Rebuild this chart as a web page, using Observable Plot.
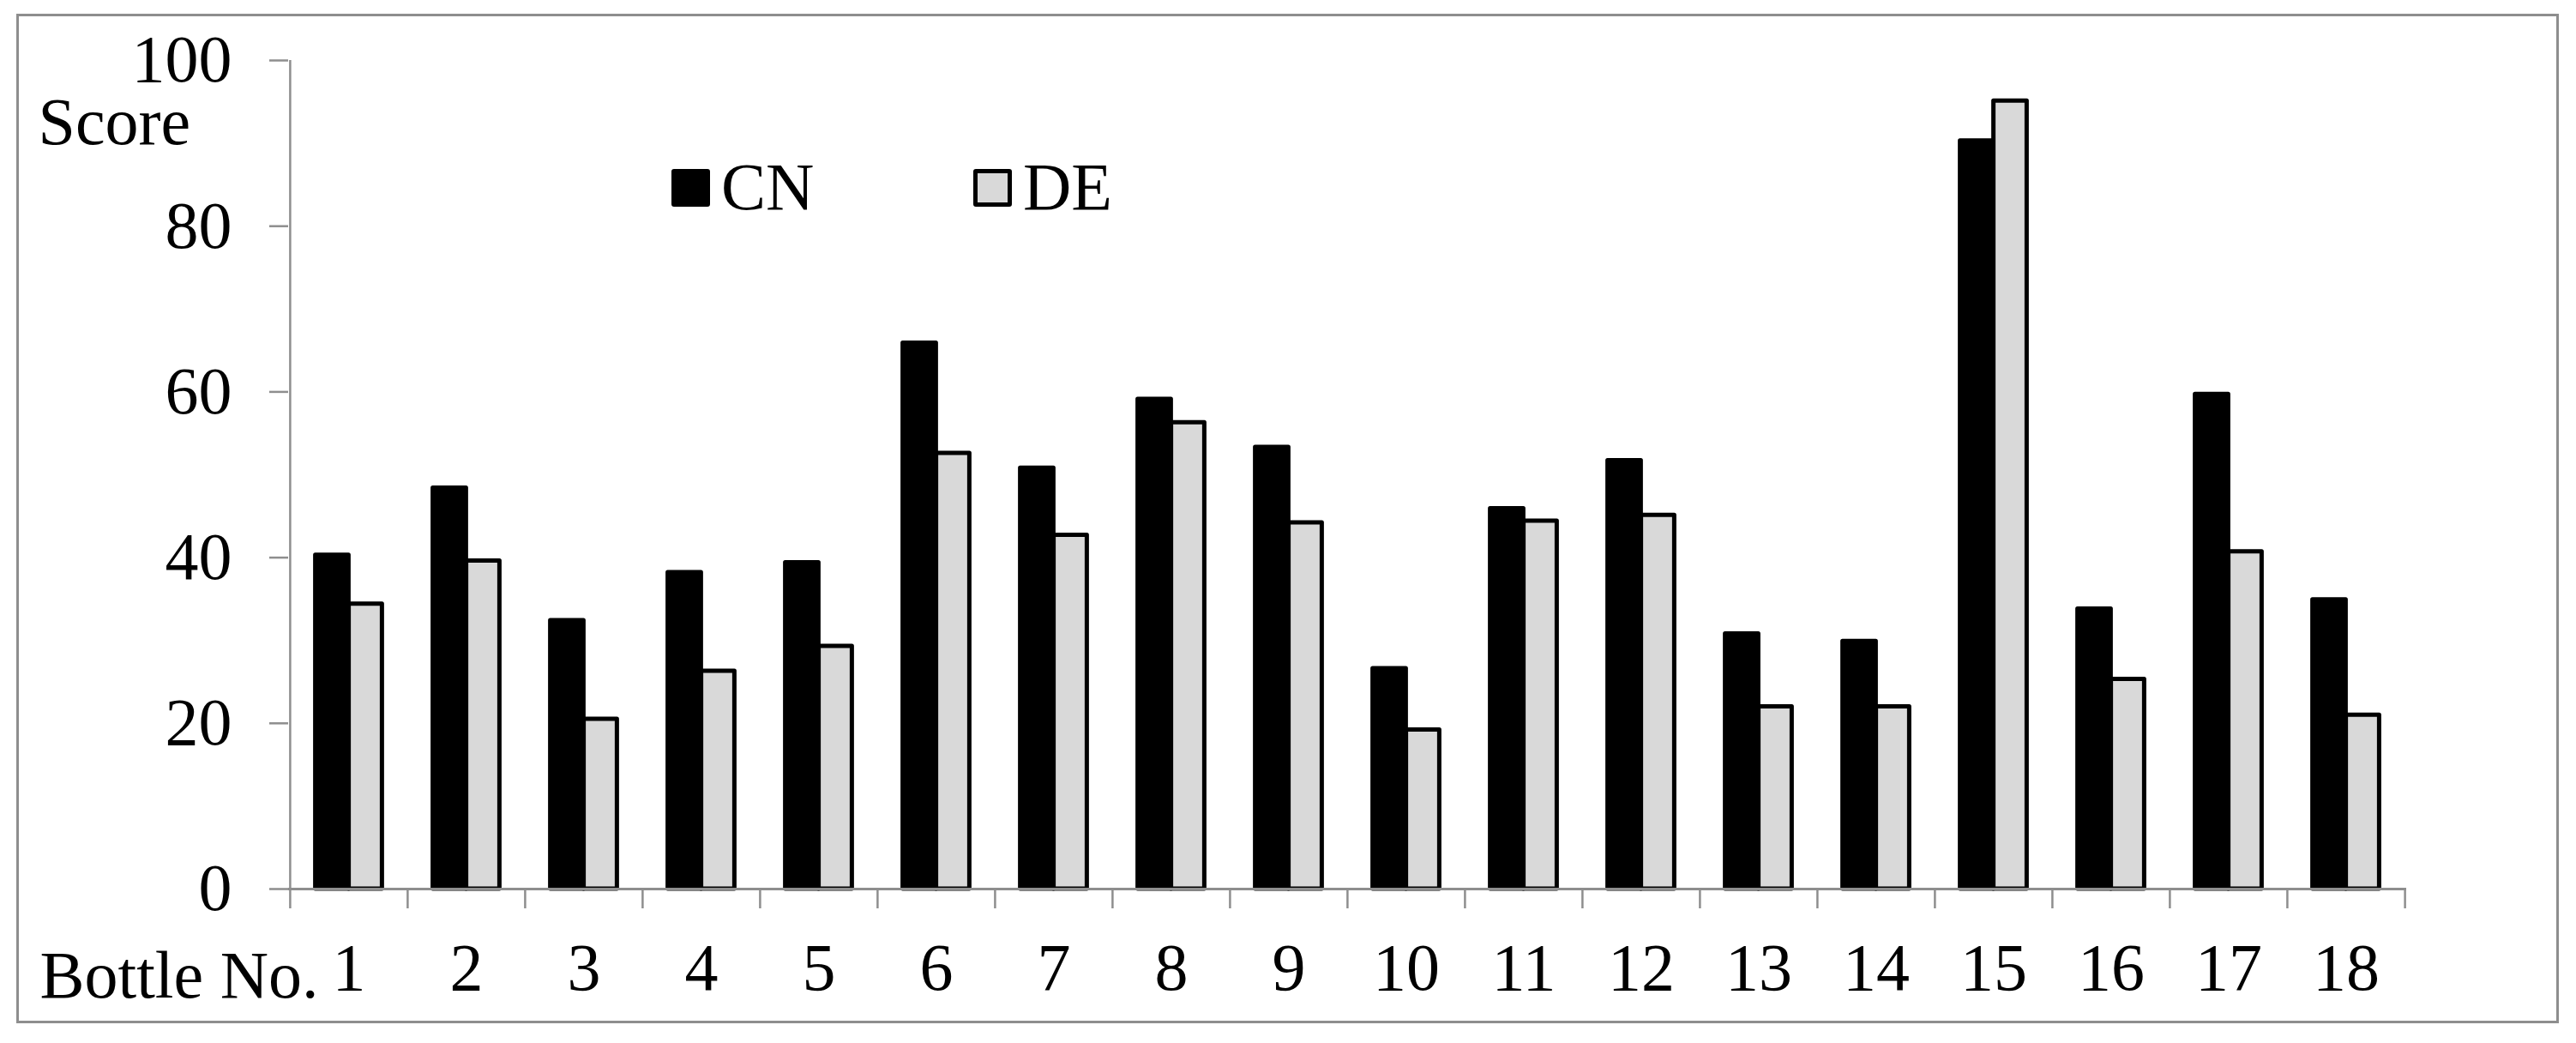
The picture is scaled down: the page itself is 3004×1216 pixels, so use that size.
<!DOCTYPE html>
<html>
<head>
<meta charset="utf-8">
<script src="https://cdn.jsdelivr.net/npm/d3@7"></script>
<script src="https://cdn.jsdelivr.net/npm/@observablehq/plot@0.6"></script>
<style>
  html, body { margin: 0; padding: 0; background: #fff; overflow: hidden; }
  #wrap { position: relative; width: 3004px; height: 1216px; }
  #border { position: absolute; left: 19px; top: 16px; width: 2965px; height: 1177px;
            border: 3px solid #8e8e8e; box-sizing: border-box; pointer-events: none; }
  .leg { position: absolute; font-family: "Liberation Serif", "Times New Roman", serif;
         font-size: 78px; line-height: 1; color: #000; white-space: nowrap; }
  .sw { position: absolute; box-sizing: border-box; border-radius: 3px; }
</style>
</head>
<body>
<div id="wrap">
  <div id="chart"></div>
  <div id="border"></div>
  <div id="legend"></div>
</div>
<script>
// ---- data ----
const bottles = ["1","2","3","4","5","6","7","8","9","10","11","12","13","14","15","16","17","18"];
const seriesNames = ["CN", "DE"];
const cnScores = [40.3, 48.4, 32.4, 38.2, 39.4, 65.9, 50.8, 59.1, 53.3, 26.6, 45.9, 51.7, 30.8, 29.9, 90.3, 33.8, 59.7, 34.9];
const deScores = [34.4, 39.6, 20.5, 26.3, 29.3, 52.6, 42.7, 56.3, 44.2, 19.2, 44.4, 45.1, 22.0, 22.0, 95.1, 25.3, 40.7, 21.0];
const yTicks = [0, 20, 40, 60, 80, 100];
const yLabel = "Score";
const xLabel = "Bottle No.";
const colors = {CN: "#000000", DE: "#d9d9d9"};

// ---- layout ----
const W = 3004, H = 1216;
const mL = 336, mR = 198, mT = 70, mB = 180;
const bw = (W - mL - mR) / bottles.length;
const barW = 39;
const gray = "#8e8e8e";
const font = "Liberation Serif";

const rows = bottles.map((b, i) => ({bottle: b, CN: cnScores[i], DE: deScores[i]}));

const chart = Plot.plot({
  width: W, height: H,
  marginLeft: mL, marginRight: mR, marginTop: mT, marginBottom: mB,
  style: {fontFamily: font, fontSize: "78px", background: "white", color: "black"},
  x: {type: "band", domain: bottles, padding: 0},
  y: {domain: [0, 100]},
  marks: [
    Plot.barY(rows, {x: "bottle", y: "CN", fill: colors.CN, stroke: "#000", strokeWidth: 5,
      strokeLinejoin: "round", insetLeft: bw / 2 - barW, insetRight: bw / 2}),
    Plot.barY(rows, {x: "bottle", y: "DE", fill: colors.DE, stroke: "#000", strokeWidth: 5,
      strokeLinejoin: "round", insetLeft: bw / 2, insetRight: bw / 2 - barW}),
    // axes lines
    Plot.ruleY([0], {stroke: gray, strokeWidth: 3}),
    Plot.ruleX([bottles[0]], {y1: 0, y2: 100, dx: -bw / 2, stroke: gray, strokeWidth: 2.5}),
    // category boundary ticks
    Plot.ruleX(bottles, {y1: 0, y2: 0, dx: -bw / 2, insetBottom: -23, stroke: gray, strokeWidth: 2.5}),
    Plot.ruleX([bottles[bottles.length - 1]], {y1: 0, y2: 0, dx: bw / 2, insetBottom: -23, stroke: gray, strokeWidth: 2.5}),
    Plot.axisY({ticks: yTicks, tickSize: 22, tickPadding: 44, stroke: gray, strokeWidth: 2.5,
      fill: "black", fontSize: 78, fontFamily: font, label: null}),
    Plot.axisX({tickSize: 0, tickPadding: 62, fill: "black", fontSize: 78, fontFamily: font, label: null}),
    Plot.text([yLabel], {text: d => d, frameAnchor: "top-left", textAnchor: "start", lineAnchor: "middle",
      dx: -292, dy: 73, fontSize: 78, fontFamily: font, fill: "black"}),
    Plot.text([xLabel], {text: d => d, frameAnchor: "bottom-left", textAnchor: "start", lineAnchor: "middle",
      dx: -290, dy: 102, fontSize: 78, fontFamily: font, fill: "black"})
  ]
});
document.getElementById("chart").appendChild(chart);

// ---- legend ----
const legend = document.getElementById("legend");
const legendPos = [{x: 783, tx: 841}, {x: 1135, tx: 1193}];
seriesNames.forEach((name, i) => {
  const sw = document.createElement("div");
  sw.className = "sw";
  Object.assign(sw.style, {left: legendPos[i].x + "px", top: "197px", width: "45px", height: "44px",
    background: colors[name], border: "5px solid #000"});
  legend.appendChild(sw);
  const t = document.createElement("div");
  t.className = "leg";
  t.textContent = name;
  Object.assign(t.style, {left: legendPos[i].tx + "px", top: "179px"});
  legend.appendChild(t);
});
</script>
</body>
</html>
